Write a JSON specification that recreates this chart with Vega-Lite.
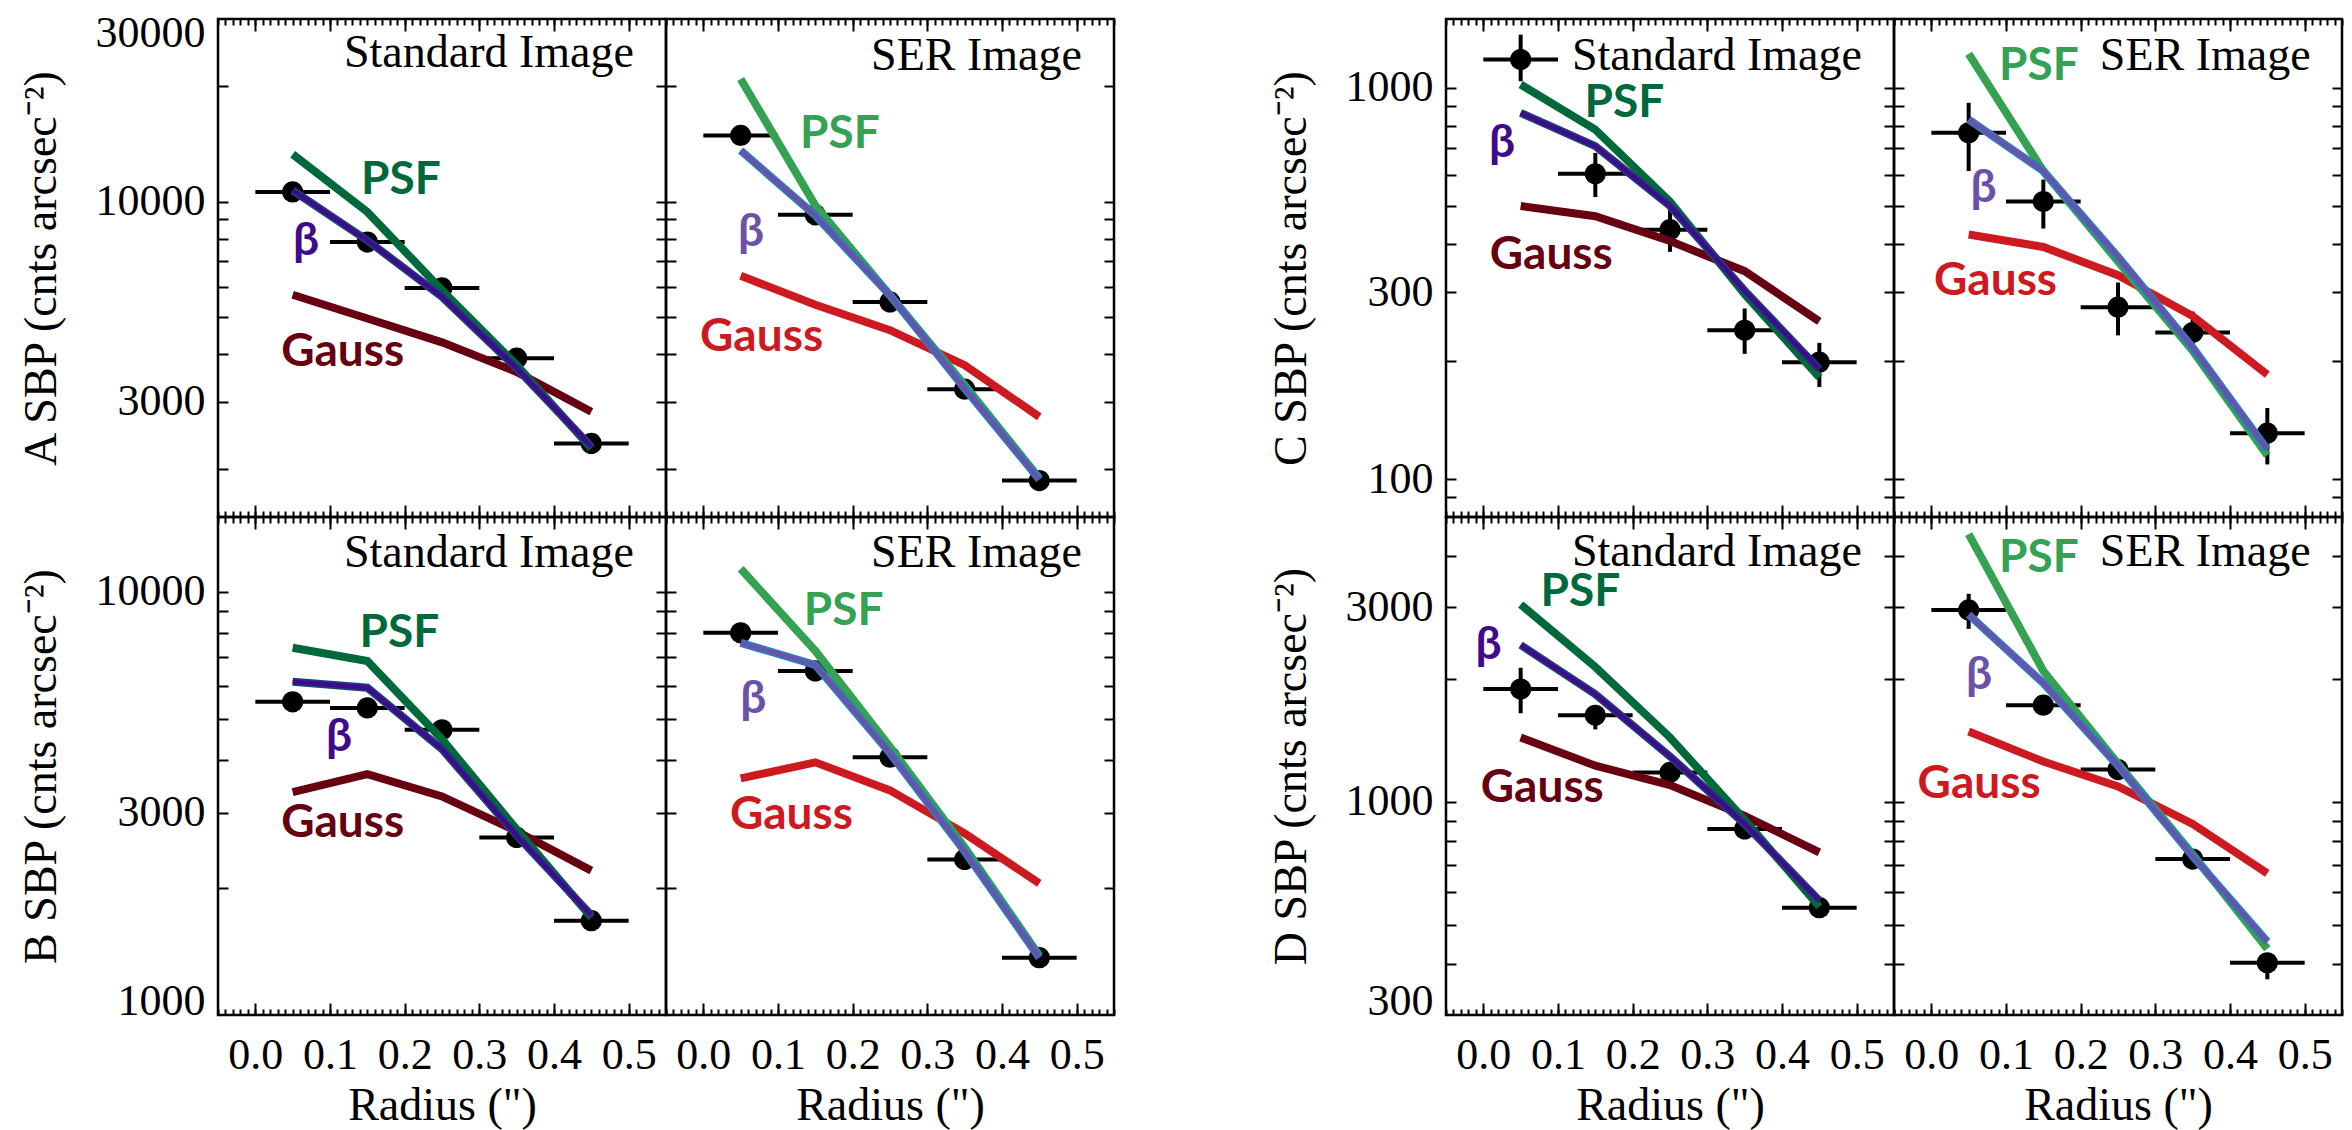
{
"$schema":"https://vega.github.io/schema/vega-lite/v6.json",
"background":"white",
"padding":{"left":16,"top":9,"right":5,"bottom":5},
"config":{
 "view":{"stroke":"black","strokeWidth":2.5},
 "axis":{"grid":false,"domain":false,"tickColor":"black","tickWidth":2,"labelFont":"Liberation Serif","labelFontSize":44,"labelColor":"black","titleFont":"Liberation Serif","titleFontSize":46,"titleFontWeight":"normal","titleColor":"black"}
},
"datasets":{"all":[
{"o":"A","i":"Std","k":"pt","r":0.05,"rl":0,"rh":0.1,"v":10600,"vl":10600,"vh":10600},
{"o":"A","i":"Std","k":"pt","r":0.15,"rl":0.1,"rh":0.2,"v":7840,"vl":7840,"vh":7840},
{"o":"A","i":"Std","k":"pt","r":0.25,"rl":0.2,"rh":0.3,"v":5950,"vl":5950,"vh":5950},
{"o":"A","i":"Std","k":"pt","r":0.35,"rl":0.3,"rh":0.4,"v":3900,"vl":3900,"vh":3900},
{"o":"A","i":"Std","k":"pt","r":0.45,"rl":0.4,"rh":0.5,"v":2335,"vl":2335,"vh":2335},
{"o":"A","i":"SER","k":"pt","r":0.05,"rl":0,"rh":0.1,"v":14890,"vl":14890,"vh":14890},
{"o":"A","i":"SER","k":"pt","r":0.15,"rl":0.1,"rh":0.2,"v":9240,"vl":9240,"vh":9240},
{"o":"A","i":"SER","k":"pt","r":0.25,"rl":0.2,"rh":0.3,"v":5470,"vl":5470,"vh":5470},
{"o":"A","i":"SER","k":"pt","r":0.35,"rl":0.3,"rh":0.4,"v":3236,"vl":3236,"vh":3236},
{"o":"A","i":"SER","k":"pt","r":0.45,"rl":0.4,"rh":0.5,"v":1867,"vl":1867,"vh":1867},
{"o":"B","i":"Std","k":"pt","r":0.05,"rl":0,"rh":0.1,"v":5490,"vl":5490,"vh":5490},
{"o":"B","i":"Std","k":"pt","r":0.15,"rl":0.1,"rh":0.2,"v":5310,"vl":5310,"vh":5310},
{"o":"B","i":"Std","k":"pt","r":0.25,"rl":0.2,"rh":0.3,"v":4714,"vl":4714,"vh":4714},
{"o":"B","i":"Std","k":"pt","r":0.35,"rl":0.3,"rh":0.4,"v":2627,"vl":2627,"vh":2627},
{"o":"B","i":"Std","k":"pt","r":0.45,"rl":0.4,"rh":0.5,"v":1670,"vl":1670,"vh":1670},
{"o":"B","i":"SER","k":"pt","r":0.05,"rl":0,"rh":0.1,"v":7990,"vl":7990,"vh":7990},
{"o":"B","i":"SER","k":"pt","r":0.15,"rl":0.1,"rh":0.2,"v":6495,"vl":6495,"vh":6495},
{"o":"B","i":"SER","k":"pt","r":0.25,"rl":0.2,"rh":0.3,"v":4064,"vl":4064,"vh":4064},
{"o":"B","i":"SER","k":"pt","r":0.35,"rl":0.3,"rh":0.4,"v":2330,"vl":2330,"vh":2330},
{"o":"B","i":"SER","k":"pt","r":0.45,"rl":0.4,"rh":0.5,"v":1366,"vl":1366,"vh":1366},
{"o":"C","i":"Std","k":"pt","r":0.05,"rl":0,"rh":0.1,"v":1181,"vl":1040,"vh":1368},
{"o":"C","i":"Std","k":"pt","r":0.15,"rl":0.1,"rh":0.2,"v":603,"vl":526,"vh":682},
{"o":"C","i":"Std","k":"pt","r":0.25,"rl":0.2,"rh":0.3,"v":434,"vl":381,"vh":490},
{"o":"C","i":"Std","k":"pt","r":0.35,"rl":0.3,"rh":0.4,"v":240,"vl":209,"vh":273},
{"o":"C","i":"Std","k":"pt","r":0.45,"rl":0.4,"rh":0.5,"v":199,"vl":172,"vh":223},
{"o":"C","i":"SER","k":"pt","r":0.05,"rl":0,"rh":0.1,"v":768,"vl":613,"vh":916},
{"o":"C","i":"SER","k":"pt","r":0.15,"rl":0.1,"rh":0.2,"v":512,"vl":437,"vh":583},
{"o":"C","i":"SER","k":"pt","r":0.25,"rl":0.2,"rh":0.3,"v":275,"vl":233,"vh":318},
{"o":"C","i":"SER","k":"pt","r":0.35,"rl":0.3,"rh":0.4,"v":237,"vl":213,"vh":268},
{"o":"C","i":"SER","k":"pt","r":0.45,"rl":0.4,"rh":0.5,"v":131,"vl":109,"vh":152},
{"o":"D","i":"Std","k":"pt","r":0.05,"rl":0,"rh":0.1,"v":1891,"vl":1650,"vh":2133},
{"o":"D","i":"Std","k":"pt","r":0.15,"rl":0.1,"rh":0.2,"v":1631,"vl":1506,"vh":1727},
{"o":"D","i":"Std","k":"pt","r":0.25,"rl":0.2,"rh":0.3,"v":1181,"vl":1130,"vh":1235},
{"o":"D","i":"Std","k":"pt","r":0.35,"rl":0.3,"rh":0.4,"v":858,"vl":830,"vh":890},
{"o":"D","i":"Std","k":"pt","r":0.45,"rl":0.4,"rh":0.5,"v":550,"vl":530,"vh":570},
{"o":"D","i":"SER","k":"pt","r":0.05,"rl":0,"rh":0.1,"v":2958,"vl":2657,"vh":3240},
{"o":"D","i":"SER","k":"pt","r":0.15,"rl":0.1,"rh":0.2,"v":1727,"vl":1650,"vh":1800},
{"o":"D","i":"SER","k":"pt","r":0.25,"rl":0.2,"rh":0.3,"v":1200,"vl":1150,"vh":1250},
{"o":"D","i":"SER","k":"pt","r":0.35,"rl":0.3,"rh":0.4,"v":724,"vl":700,"vh":750},
{"o":"D","i":"SER","k":"pt","r":0.45,"rl":0.4,"rh":0.5,"v":403,"vl":367,"vh":426},

{"o":"A","i":"Std","k":"PSF","r":0.05,"v":13300},{"o":"A","i":"Std","k":"PSF","r":0.15,"v":9400},{"o":"A","i":"Std","k":"PSF","r":0.25,"v":5870},{"o":"A","i":"Std","k":"PSF","r":0.35,"v":3740},{"o":"A","i":"Std","k":"PSF","r":0.45,"v":2266},
{"o":"A","i":"Std","k":"beta","r":0.05,"v":10700},{"o":"A","i":"Std","k":"beta","r":0.15,"v":7920},{"o":"A","i":"Std","k":"beta","r":0.25,"v":5640},{"o":"A","i":"Std","k":"beta","r":0.35,"v":3670},{"o":"A","i":"Std","k":"beta","r":0.45,"v":2290},
{"o":"A","i":"Std","k":"Gauss","r":0.05,"v":5710},{"o":"A","i":"Std","k":"Gauss","r":0.15,"v":4950},{"o":"A","i":"Std","k":"Gauss","r":0.25,"v":4290},{"o":"A","i":"Std","k":"Gauss","r":0.35,"v":3590},{"o":"A","i":"Std","k":"Gauss","r":0.45,"v":2825},
{"o":"A","i":"SER","k":"PSF","r":0.05,"v":20900},{"o":"A","i":"SER","k":"PSF","r":0.15,"v":9770},{"o":"A","i":"SER","k":"PSF","r":0.25,"v":5690},{"o":"A","i":"SER","k":"PSF","r":0.35,"v":3316},{"o":"A","i":"SER","k":"PSF","r":0.45,"v":1893},
{"o":"A","i":"SER","k":"beta","r":0.05,"v":13600},{"o":"A","i":"SER","k":"beta","r":0.15,"v":9200},{"o":"A","i":"SER","k":"beta","r":0.25,"v":5690},{"o":"A","i":"SER","k":"beta","r":0.35,"v":3250},{"o":"A","i":"SER","k":"beta","r":0.45,"v":1880},
{"o":"A","i":"SER","k":"Gauss","r":0.05,"v":6400},{"o":"A","i":"SER","k":"Gauss","r":0.15,"v":5380},{"o":"A","i":"SER","k":"Gauss","r":0.25,"v":4615},{"o":"A","i":"SER","k":"Gauss","r":0.35,"v":3740},{"o":"A","i":"SER","k":"Gauss","r":0.45,"v":2740},
{"o":"B","i":"Std","k":"PSF","r":0.05,"v":7366},{"o":"B","i":"Std","k":"PSF","r":0.15,"v":6855},{"o":"B","i":"Std","k":"PSF","r":0.25,"v":4480},{"o":"B","i":"Std","k":"PSF","r":0.35,"v":2744},{"o":"B","i":"Std","k":"PSF","r":0.45,"v":1700},
{"o":"B","i":"Std","k":"beta","r":0.05,"v":6120},{"o":"B","i":"Std","k":"beta","r":0.15,"v":5927},{"o":"B","i":"Std","k":"beta","r":0.25,"v":4245},{"o":"B","i":"Std","k":"beta","r":0.35,"v":2655},{"o":"B","i":"Std","k":"beta","r":0.45,"v":1720},
{"o":"B","i":"Std","k":"Gauss","r":0.05,"v":3360},{"o":"B","i":"Std","k":"Gauss","r":0.15,"v":3706},{"o":"B","i":"Std","k":"Gauss","r":0.25,"v":3283},{"o":"B","i":"Std","k":"Gauss","r":0.35,"v":2716},{"o":"B","i":"Std","k":"Gauss","r":0.45,"v":2193},
{"o":"B","i":"SER","k":"PSF","r":0.05,"v":11320},{"o":"B","i":"SER","k":"PSF","r":0.15,"v":7245},{"o":"B","i":"SER","k":"PSF","r":0.25,"v":4295},{"o":"B","i":"SER","k":"PSF","r":0.35,"v":2488},{"o":"B","i":"SER","k":"PSF","r":0.45,"v":1380},
{"o":"B","i":"SER","k":"beta","r":0.05,"v":7565},{"o":"B","i":"SER","k":"beta","r":0.15,"v":6710},{"o":"B","i":"SER","k":"beta","r":0.25,"v":4152},{"o":"B","i":"SER","k":"beta","r":0.35,"v":2434},{"o":"B","i":"SER","k":"beta","r":0.45,"v":1366},
{"o":"B","i":"SER","k":"Gauss","r":0.05,"v":3620},{"o":"B","i":"SER","k":"Gauss","r":0.15,"v":3950},{"o":"B","i":"SER","k":"Gauss","r":0.25,"v":3392},{"o":"B","i":"SER","k":"Gauss","r":0.35,"v":2685},{"o":"B","i":"SER","k":"Gauss","r":0.45,"v":2045},
{"o":"C","i":"Std","k":"PSF","r":0.05,"v":1020},{"o":"C","i":"Std","k":"PSF","r":0.15,"v":782},{"o":"C","i":"Std","k":"PSF","r":0.25,"v":512},{"o":"C","i":"Std","k":"PSF","r":0.35,"v":297},{"o":"C","i":"Std","k":"PSF","r":0.45,"v":182},
{"o":"C","i":"Std","k":"beta","r":0.05,"v":863},{"o":"C","i":"Std","k":"beta","r":0.15,"v":710},{"o":"C","i":"Std","k":"beta","r":0.25,"v":499},{"o":"C","i":"Std","k":"beta","r":0.35,"v":303},{"o":"C","i":"Std","k":"beta","r":0.45,"v":191},
{"o":"C","i":"Std","k":"Gauss","r":0.05,"v":499},{"o":"C","i":"Std","k":"Gauss","r":0.15,"v":470},{"o":"C","i":"Std","k":"Gauss","r":0.25,"v":406},{"o":"C","i":"Std","k":"Gauss","r":0.35,"v":340},{"o":"C","i":"Std","k":"Gauss","r":0.45,"v":253},
{"o":"C","i":"SER","k":"PSF","r":0.05,"v":1221},{"o":"C","i":"SER","k":"PSF","r":0.15,"v":613},{"o":"C","i":"SER","k":"PSF","r":0.25,"v":360},{"o":"C","i":"SER","k":"PSF","r":0.35,"v":213},{"o":"C","i":"SER","k":"PSF","r":0.45,"v":115},
{"o":"C","i":"SER","k":"beta","r":0.05,"v":830},{"o":"C","i":"SER","k":"beta","r":0.15,"v":613},{"o":"C","i":"SER","k":"beta","r":0.25,"v":370},{"o":"C","i":"SER","k":"beta","r":0.35,"v":217},{"o":"C","i":"SER","k":"beta","r":0.45,"v":119},
{"o":"C","i":"SER","k":"Gauss","r":0.05,"v":422},{"o":"C","i":"SER","k":"Gauss","r":0.15,"v":392},{"o":"C","i":"SER","k":"Gauss","r":0.25,"v":332},{"o":"C","i":"SER","k":"Gauss","r":0.35,"v":261},{"o":"C","i":"SER","k":"Gauss","r":0.45,"v":185},
{"o":"D","i":"Std","k":"PSF","r":0.05,"v":3050},{"o":"D","i":"Std","k":"PSF","r":0.15,"v":2143},{"o":"D","i":"Std","k":"PSF","r":0.25,"v":1439},{"o":"D","i":"Std","k":"PSF","r":0.35,"v":903},{"o":"D","i":"Std","k":"PSF","r":0.45,"v":553},
{"o":"D","i":"Std","k":"beta","r":0.05,"v":2426},{"o":"D","i":"Std","k":"beta","r":0.15,"v":1837},{"o":"D","i":"Std","k":"beta","r":0.25,"v":1293},{"o":"D","i":"Std","k":"beta","r":0.35,"v":883},{"o":"D","i":"Std","k":"beta","r":0.45,"v":573},
{"o":"D","i":"Std","k":"Gauss","r":0.05,"v":1439},{"o":"D","i":"Std","k":"Gauss","r":0.15,"v":1227},{"o":"D","i":"Std","k":"Gauss","r":0.25,"v":1100},{"o":"D","i":"Std","k":"Gauss","r":0.35,"v":924},{"o":"D","i":"Std","k":"Gauss","r":0.45,"v":752},
{"o":"D","i":"SER","k":"PSF","r":0.05,"v":4540},{"o":"D","i":"SER","k":"PSF","r":0.15,"v":2095},{"o":"D","i":"SER","k":"PSF","r":0.25,"v":1241},{"o":"D","i":"SER","k":"PSF","r":0.35,"v":744},{"o":"D","i":"SER","k":"PSF","r":0.45,"v":436},
{"o":"D","i":"SER","k":"beta","r":0.05,"v":2880},{"o":"D","i":"SER","k":"beta","r":0.15,"v":1956},{"o":"D","i":"SER","k":"beta","r":0.25,"v":1227},{"o":"D","i":"SER","k":"beta","r":0.35,"v":736},{"o":"D","i":"SER","k":"beta","r":0.45,"v":454},
{"o":"D","i":"SER","k":"Gauss","r":0.05,"v":1489},{"o":"D","i":"SER","k":"Gauss","r":0.15,"v":1256},{"o":"D","i":"SER","k":"Gauss","r":0.25,"v":1091},{"o":"D","i":"SER","k":"Gauss","r":0.35,"v":883},{"o":"D","i":"SER","k":"Gauss","r":0.45,"v":668},

{"o":"A","i":"Std","k":"lab","c":"SP","t":"PSF","r":0.195,"v":11360},
{"o":"A","i":"Std","k":"lab","c":"SB","t":"β","r":0.068,"v":7900},
{"o":"A","i":"Std","k":"lab","c":"SG","t":"Gauss","r":0.117,"v":4050},
{"o":"A","i":"Std","k":"title","t":"Standard Image","r":0.507,"v":24500},
{"o":"A","i":"SER","k":"lab","c":"EP","t":"PSF","r":0.183,"v":15000},
{"o":"A","i":"SER","k":"lab","c":"EB","t":"β","r":0.064,"v":8330},
{"o":"A","i":"SER","k":"lab","c":"EG","t":"Gauss","r":0.078,"v":4430},
{"o":"A","i":"SER","k":"title","t":"SER Image","r":0.507,"v":24080},
{"o":"B","i":"Std","k":"lab","c":"SP","t":"PSF","r":0.193,"v":7990},
{"o":"B","i":"Std","k":"lab","c":"SB","t":"β","r":0.112,"v":4530},
{"o":"B","i":"Std","k":"lab","c":"SG","t":"Gauss","r":0.117,"v":2836},
{"o":"B","i":"Std","k":"title","t":"Standard Image","r":0.507,"v":12350},
{"o":"B","i":"SER","k":"lab","c":"EP","t":"PSF","r":0.188,"v":9000},
{"o":"B","i":"SER","k":"lab","c":"EB","t":"β","r":0.067,"v":5575},
{"o":"B","i":"SER","k":"lab","c":"EG","t":"Gauss","r":0.118,"v":2963},
{"o":"B","i":"SER","k":"title","t":"SER Image","r":0.507,"v":12350},
{"o":"C","i":"Std","k":"lab","c":"SP","t":"PSF","r":0.189,"v":916},
{"o":"C","i":"Std","k":"lab","c":"SB","t":"β","r":0.025,"v":723},
{"o":"C","i":"Std","k":"lab","c":"SG","t":"Gauss","r":0.091,"v":375},
{"o":"C","i":"Std","k":"title","t":"Standard Image","r":0.507,"v":1205},
{"o":"C","i":"SER","k":"lab","c":"EP","t":"PSF","r":0.144,"v":1136},
{"o":"C","i":"SER","k":"lab","c":"EB","t":"β","r":0.07,"v":556},
{"o":"C","i":"SER","k":"lab","c":"EG","t":"Gauss","r":0.086,"v":321},
{"o":"C","i":"SER","k":"title","t":"SER Image","r":0.508,"v":1205},
{"o":"D","i":"Std","k":"lab","c":"SP","t":"PSF","r":0.13,"v":3265},
{"o":"D","i":"Std","k":"lab","c":"SB","t":"β","r":0.007,"v":2426},
{"o":"D","i":"Std","k":"lab","c":"SG","t":"Gauss","r":0.079,"v":1083},
{"o":"D","i":"Std","k":"title","t":"Standard Image","r":0.507,"v":4100},
{"o":"D","i":"SER","k":"lab","c":"EP","t":"PSF","r":0.144,"v":3963},
{"o":"D","i":"SER","k":"lab","c":"EB","t":"β","r":0.064,"v":2047},
{"o":"D","i":"SER","k":"lab","c":"EG","t":"Gauss","r":0.064,"v":1108},
{"o":"D","i":"SER","k":"title","t":"SER Image","r":0.508,"v":4100}
]},
"spacing":149,
"hconcat":[
{"columns":2,"spacing":0,"bounds":"flush","concat":[
  {"width":448,"height":498,"data":{"name":"all"},"transform":[{"filter":"datum.o=='A'&&datum.i=='Std'"}],
   "layer":[
    {"transform":[{"filter":"datum.k=='pt'"}],"mark":{"type":"rule","color":"black","strokeWidth":4},"encoding":{"x":{"field":"rl","type":"quantitative","scale":{"domain":[-0.05,0.55],"nice":false,"zero":false},"axis":null},"x2":{"field":"rh"},"y":{"field":"v","type":"quantitative","scale":{"type":"log","domain":[1500,30000],"nice":false},"axis":{"orient":"left","values":[3000,10000,30000],"format":"d","ticks":false,"tickSize":0,"labelPadding":13,"labelOverlap":false,"labelFlush":true,"labelFlushOffset":8,"title":"A SBP (cnts arcsec⁻²)","titlePadding":30}}}},
    {"transform":[{"filter":"datum.k=='pt'"}],"mark":{"type":"rule","color":"black","strokeWidth":4},"encoding":{"x":{"field":"r","type":"quantitative","scale":{"domain":[-0.05,0.55],"nice":false,"zero":false},"axis":{"orient":"bottom","offset":-12,"tickSize":12,"tickCount":6,"labels":false,"title":null}},"y":{"field":"vl","type":"quantitative","scale":{"type":"log","domain":[1500,30000],"nice":false},"axis":{"orient":"left","offset":-10,"tickSize":10,"values":[2000,3000,4000,5000,6000,7000,8000,9000,10000,20000],"labels":false,"title":null}},"y2":{"field":"vh"}}},
    {"transform":[{"filter":"datum.k=='pt'"}],"mark":{"type":"circle","color":"black","size":450,"opacity":1},"encoding":{"x":{"field":"r","type":"quantitative","scale":{"domain":[-0.05,0.55],"nice":false,"zero":false},"axis":{"orient":"bottom","offset":-6,"tickSize":6,"tickCount":60,"labels":false,"title":null}},"y":{"field":"v","type":"quantitative","scale":{"type":"log","domain":[1500,30000],"nice":false},"axis":{"orient":"right","offset":-10,"tickSize":10,"values":[2000,3000,4000,5000,6000,7000,8000,9000,10000,20000],"labels":false,"title":null}}}},
    {"transform":[{"filter":"datum.k=='Gauss'"}],"mark":{"type":"line","color":"#670010","strokeWidth":8},"encoding":{"x":{"field":"r","type":"quantitative","scale":{"domain":[-0.05,0.55],"nice":false,"zero":false},"axis":{"orient":"top","offset":-12,"tickSize":12,"tickCount":6,"labels":false,"title":null}},"y":{"field":"v","type":"quantitative","scale":{"type":"log","domain":[1500,30000],"nice":false},"axis":null}}},
    {"transform":[{"filter":"datum.k=='PSF'"}],"mark":{"type":"line","color":"#00693c","strokeWidth":8},"encoding":{"x":{"field":"r","type":"quantitative","scale":{"domain":[-0.05,0.55],"nice":false,"zero":false},"axis":{"orient":"top","offset":-6,"tickSize":6,"tickCount":60,"labels":false,"title":null}},"y":{"field":"v","type":"quantitative","scale":{"type":"log","domain":[1500,30000],"nice":false},"axis":null}}},
    {"transform":[{"filter":"datum.k=='beta'"}],"mark":{"type":"line","color":"#1b3f78","strokeWidth":8},"encoding":{"x":{"field":"r","type":"quantitative","scale":{"domain":[-0.05,0.55],"nice":false,"zero":false},"axis":null},"y":{"field":"v","type":"quantitative","scale":{"type":"log","domain":[1500,30000],"nice":false},"axis":null}}},
    {"transform":[{"filter":"datum.k=='beta'"}],"mark":{"type":"line","color":"#400a8c","strokeWidth":4.5},"encoding":{"x":{"field":"r","type":"quantitative","scale":{"domain":[-0.05,0.55],"nice":false,"zero":false},"axis":null},"y":{"field":"v","type":"quantitative","scale":{"type":"log","domain":[1500,30000],"nice":false},"axis":null}}},
    {"transform":[{"filter":"datum.k=='lab'"}],"mark":{"type":"text","font":"Lato","fontWeight":"bold","fontSize":46,"align":"center","baseline":"middle"},"encoding":{"x":{"field":"r","type":"quantitative","scale":{"domain":[-0.05,0.55],"nice":false,"zero":false},"axis":null},"y":{"field":"v","type":"quantitative","scale":{"type":"log","domain":[1500,30000],"nice":false},"axis":null},"text":{"field":"t"},"color":{"field":"c","type":"nominal","scale":{"domain":["SP","SB","SG","EP","EB","EG"],"range":["#00693c","#400a8c","#670010","#35a153","#6b52a8","#cd1a20"]},"legend":null}}},
    {"transform":[{"filter":"datum.k=='title'"}],"mark":{"type":"text","font":"Liberation Serif","fontSize":46,"align":"right","baseline":"middle","color":"black"},"encoding":{"x":{"field":"r","type":"quantitative","scale":{"domain":[-0.05,0.55],"nice":false,"zero":false},"axis":null},"y":{"field":"v","type":"quantitative","scale":{"type":"log","domain":[1500,30000],"nice":false},"axis":null},"text":{"field":"t"}}}
   ],
   "resolve":{"axis":{"x":"independent","y":"independent"}}},
  {"width":448,"height":498,"data":{"name":"all"},"transform":[{"filter":"datum.o=='A'&&datum.i=='SER'"}],
   "layer":[
    {"transform":[{"filter":"datum.k=='pt'"}],"mark":{"type":"rule","color":"black","strokeWidth":4},"encoding":{"x":{"field":"rl","type":"quantitative","scale":{"domain":[-0.05,0.55],"nice":false,"zero":false},"axis":null},"x2":{"field":"rh"},"y":{"field":"v","type":"quantitative","scale":{"type":"log","domain":[1500,30000],"nice":false},"axis":null}}},
    {"transform":[{"filter":"datum.k=='pt'"}],"mark":{"type":"rule","color":"black","strokeWidth":4},"encoding":{"x":{"field":"r","type":"quantitative","scale":{"domain":[-0.05,0.55],"nice":false,"zero":false},"axis":{"orient":"bottom","offset":-12,"tickSize":12,"tickCount":6,"labels":false,"title":null}},"y":{"field":"vl","type":"quantitative","scale":{"type":"log","domain":[1500,30000],"nice":false},"axis":{"orient":"left","offset":-10,"tickSize":10,"values":[2000,3000,4000,5000,6000,7000,8000,9000,10000,20000],"labels":false,"title":null}},"y2":{"field":"vh"}}},
    {"transform":[{"filter":"datum.k=='pt'"}],"mark":{"type":"circle","color":"black","size":450,"opacity":1},"encoding":{"x":{"field":"r","type":"quantitative","scale":{"domain":[-0.05,0.55],"nice":false,"zero":false},"axis":{"orient":"bottom","offset":-6,"tickSize":6,"tickCount":60,"labels":false,"title":null}},"y":{"field":"v","type":"quantitative","scale":{"type":"log","domain":[1500,30000],"nice":false},"axis":{"orient":"right","offset":-10,"tickSize":10,"values":[2000,3000,4000,5000,6000,7000,8000,9000,10000,20000],"labels":false,"title":null}}}},
    {"transform":[{"filter":"datum.k=='Gauss'"}],"mark":{"type":"line","color":"#cd1a20","strokeWidth":8},"encoding":{"x":{"field":"r","type":"quantitative","scale":{"domain":[-0.05,0.55],"nice":false,"zero":false},"axis":{"orient":"top","offset":-12,"tickSize":12,"tickCount":6,"labels":false,"title":null}},"y":{"field":"v","type":"quantitative","scale":{"type":"log","domain":[1500,30000],"nice":false},"axis":null}}},
    {"transform":[{"filter":"datum.k=='PSF'"}],"mark":{"type":"line","color":"#35a153","strokeWidth":8},"encoding":{"x":{"field":"r","type":"quantitative","scale":{"domain":[-0.05,0.55],"nice":false,"zero":false},"axis":{"orient":"top","offset":-6,"tickSize":6,"tickCount":60,"labels":false,"title":null}},"y":{"field":"v","type":"quantitative","scale":{"type":"log","domain":[1500,30000],"nice":false},"axis":null}}},
    {"transform":[{"filter":"datum.k=='beta'"}],"mark":{"type":"line","color":"#2b7cc2","strokeWidth":8},"encoding":{"x":{"field":"r","type":"quantitative","scale":{"domain":[-0.05,0.55],"nice":false,"zero":false},"axis":null},"y":{"field":"v","type":"quantitative","scale":{"type":"log","domain":[1500,30000],"nice":false},"axis":null}}},
    {"transform":[{"filter":"datum.k=='beta'"}],"mark":{"type":"line","color":"#6b52a8","strokeWidth":4.5},"encoding":{"x":{"field":"r","type":"quantitative","scale":{"domain":[-0.05,0.55],"nice":false,"zero":false},"axis":null},"y":{"field":"v","type":"quantitative","scale":{"type":"log","domain":[1500,30000],"nice":false},"axis":null}}},
    {"transform":[{"filter":"datum.k=='lab'"}],"mark":{"type":"text","font":"Lato","fontWeight":"bold","fontSize":46,"align":"center","baseline":"middle"},"encoding":{"x":{"field":"r","type":"quantitative","scale":{"domain":[-0.05,0.55],"nice":false,"zero":false},"axis":null},"y":{"field":"v","type":"quantitative","scale":{"type":"log","domain":[1500,30000],"nice":false},"axis":null},"text":{"field":"t"},"color":{"field":"c","type":"nominal","scale":{"domain":["SP","SB","SG","EP","EB","EG"],"range":["#00693c","#400a8c","#670010","#35a153","#6b52a8","#cd1a20"]},"legend":null}}},
    {"transform":[{"filter":"datum.k=='title'"}],"mark":{"type":"text","font":"Liberation Serif","fontSize":46,"align":"right","baseline":"middle","color":"black"},"encoding":{"x":{"field":"r","type":"quantitative","scale":{"domain":[-0.05,0.55],"nice":false,"zero":false},"axis":null},"y":{"field":"v","type":"quantitative","scale":{"type":"log","domain":[1500,30000],"nice":false},"axis":null},"text":{"field":"t"}}}
   ],
   "resolve":{"axis":{"x":"independent","y":"independent"}}},
  {"width":448,"height":498,"data":{"name":"all"},"transform":[{"filter":"datum.o=='B'&&datum.i=='Std'"}],
   "layer":[
    {"transform":[{"filter":"datum.k=='pt'"}],"mark":{"type":"rule","color":"black","strokeWidth":4},"encoding":{"x":{"field":"rl","type":"quantitative","scale":{"domain":[-0.05,0.55],"nice":false,"zero":false},"axis":{"orient":"bottom","values":[0,0.1,0.2,0.3,0.4,0.5],"format":".1f","ticks":false,"tickSize":0,"labelPadding":18,"labelOverlap":false,"labelFlush":false,"title":"Radius (\")","titlePadding":6}},"x2":{"field":"rh"},"y":{"field":"v","type":"quantitative","scale":{"type":"log","domain":[1000,15000],"nice":false},"axis":{"orient":"left","values":[1000,3000,10000],"format":"d","ticks":false,"tickSize":0,"labelPadding":13,"labelOverlap":false,"labelFlush":true,"labelFlushOffset":8,"title":"B SBP (cnts arcsec⁻²)","titlePadding":30}}}},
    {"transform":[{"filter":"datum.k=='pt'"}],"mark":{"type":"rule","color":"black","strokeWidth":4},"encoding":{"x":{"field":"r","type":"quantitative","scale":{"domain":[-0.05,0.55],"nice":false,"zero":false},"axis":{"orient":"bottom","offset":-12,"tickSize":12,"tickCount":6,"labels":false,"title":null}},"y":{"field":"vl","type":"quantitative","scale":{"type":"log","domain":[1000,15000],"nice":false},"axis":{"orient":"left","offset":-10,"tickSize":10,"values":[2000,3000,4000,5000,6000,7000,8000,9000,10000],"labels":false,"title":null}},"y2":{"field":"vh"}}},
    {"transform":[{"filter":"datum.k=='pt'"}],"mark":{"type":"circle","color":"black","size":450,"opacity":1},"encoding":{"x":{"field":"r","type":"quantitative","scale":{"domain":[-0.05,0.55],"nice":false,"zero":false},"axis":{"orient":"bottom","offset":-6,"tickSize":6,"tickCount":60,"labels":false,"title":null}},"y":{"field":"v","type":"quantitative","scale":{"type":"log","domain":[1000,15000],"nice":false},"axis":{"orient":"right","offset":-10,"tickSize":10,"values":[2000,3000,4000,5000,6000,7000,8000,9000,10000],"labels":false,"title":null}}}},
    {"transform":[{"filter":"datum.k=='Gauss'"}],"mark":{"type":"line","color":"#670010","strokeWidth":8},"encoding":{"x":{"field":"r","type":"quantitative","scale":{"domain":[-0.05,0.55],"nice":false,"zero":false},"axis":{"orient":"top","offset":-12,"tickSize":12,"tickCount":6,"labels":false,"title":null}},"y":{"field":"v","type":"quantitative","scale":{"type":"log","domain":[1000,15000],"nice":false},"axis":null}}},
    {"transform":[{"filter":"datum.k=='PSF'"}],"mark":{"type":"line","color":"#00693c","strokeWidth":8},"encoding":{"x":{"field":"r","type":"quantitative","scale":{"domain":[-0.05,0.55],"nice":false,"zero":false},"axis":{"orient":"top","offset":-6,"tickSize":6,"tickCount":60,"labels":false,"title":null}},"y":{"field":"v","type":"quantitative","scale":{"type":"log","domain":[1000,15000],"nice":false},"axis":null}}},
    {"transform":[{"filter":"datum.k=='beta'"}],"mark":{"type":"line","color":"#1b3f78","strokeWidth":8},"encoding":{"x":{"field":"r","type":"quantitative","scale":{"domain":[-0.05,0.55],"nice":false,"zero":false},"axis":null},"y":{"field":"v","type":"quantitative","scale":{"type":"log","domain":[1000,15000],"nice":false},"axis":null}}},
    {"transform":[{"filter":"datum.k=='beta'"}],"mark":{"type":"line","color":"#400a8c","strokeWidth":4.5},"encoding":{"x":{"field":"r","type":"quantitative","scale":{"domain":[-0.05,0.55],"nice":false,"zero":false},"axis":null},"y":{"field":"v","type":"quantitative","scale":{"type":"log","domain":[1000,15000],"nice":false},"axis":null}}},
    {"transform":[{"filter":"datum.k=='lab'"}],"mark":{"type":"text","font":"Lato","fontWeight":"bold","fontSize":46,"align":"center","baseline":"middle"},"encoding":{"x":{"field":"r","type":"quantitative","scale":{"domain":[-0.05,0.55],"nice":false,"zero":false},"axis":null},"y":{"field":"v","type":"quantitative","scale":{"type":"log","domain":[1000,15000],"nice":false},"axis":null},"text":{"field":"t"},"color":{"field":"c","type":"nominal","scale":{"domain":["SP","SB","SG","EP","EB","EG"],"range":["#00693c","#400a8c","#670010","#35a153","#6b52a8","#cd1a20"]},"legend":null}}},
    {"transform":[{"filter":"datum.k=='title'"}],"mark":{"type":"text","font":"Liberation Serif","fontSize":46,"align":"right","baseline":"middle","color":"black"},"encoding":{"x":{"field":"r","type":"quantitative","scale":{"domain":[-0.05,0.55],"nice":false,"zero":false},"axis":null},"y":{"field":"v","type":"quantitative","scale":{"type":"log","domain":[1000,15000],"nice":false},"axis":null},"text":{"field":"t"}}}
   ],
   "resolve":{"axis":{"x":"independent","y":"independent"}}},
  {"width":448,"height":498,"data":{"name":"all"},"transform":[{"filter":"datum.o=='B'&&datum.i=='SER'"}],
   "layer":[
    {"transform":[{"filter":"datum.k=='pt'"}],"mark":{"type":"rule","color":"black","strokeWidth":4},"encoding":{"x":{"field":"rl","type":"quantitative","scale":{"domain":[-0.05,0.55],"nice":false,"zero":false},"axis":{"orient":"bottom","values":[0,0.1,0.2,0.3,0.4,0.5],"format":".1f","ticks":false,"tickSize":0,"labelPadding":18,"labelOverlap":false,"labelFlush":false,"title":"Radius (\")","titlePadding":6}},"x2":{"field":"rh"},"y":{"field":"v","type":"quantitative","scale":{"type":"log","domain":[1000,15000],"nice":false},"axis":null}}},
    {"transform":[{"filter":"datum.k=='pt'"}],"mark":{"type":"rule","color":"black","strokeWidth":4},"encoding":{"x":{"field":"r","type":"quantitative","scale":{"domain":[-0.05,0.55],"nice":false,"zero":false},"axis":{"orient":"bottom","offset":-12,"tickSize":12,"tickCount":6,"labels":false,"title":null}},"y":{"field":"vl","type":"quantitative","scale":{"type":"log","domain":[1000,15000],"nice":false},"axis":{"orient":"left","offset":-10,"tickSize":10,"values":[2000,3000,4000,5000,6000,7000,8000,9000,10000],"labels":false,"title":null}},"y2":{"field":"vh"}}},
    {"transform":[{"filter":"datum.k=='pt'"}],"mark":{"type":"circle","color":"black","size":450,"opacity":1},"encoding":{"x":{"field":"r","type":"quantitative","scale":{"domain":[-0.05,0.55],"nice":false,"zero":false},"axis":{"orient":"bottom","offset":-6,"tickSize":6,"tickCount":60,"labels":false,"title":null}},"y":{"field":"v","type":"quantitative","scale":{"type":"log","domain":[1000,15000],"nice":false},"axis":{"orient":"right","offset":-10,"tickSize":10,"values":[2000,3000,4000,5000,6000,7000,8000,9000,10000],"labels":false,"title":null}}}},
    {"transform":[{"filter":"datum.k=='Gauss'"}],"mark":{"type":"line","color":"#cd1a20","strokeWidth":8},"encoding":{"x":{"field":"r","type":"quantitative","scale":{"domain":[-0.05,0.55],"nice":false,"zero":false},"axis":{"orient":"top","offset":-12,"tickSize":12,"tickCount":6,"labels":false,"title":null}},"y":{"field":"v","type":"quantitative","scale":{"type":"log","domain":[1000,15000],"nice":false},"axis":null}}},
    {"transform":[{"filter":"datum.k=='PSF'"}],"mark":{"type":"line","color":"#35a153","strokeWidth":8},"encoding":{"x":{"field":"r","type":"quantitative","scale":{"domain":[-0.05,0.55],"nice":false,"zero":false},"axis":{"orient":"top","offset":-6,"tickSize":6,"tickCount":60,"labels":false,"title":null}},"y":{"field":"v","type":"quantitative","scale":{"type":"log","domain":[1000,15000],"nice":false},"axis":null}}},
    {"transform":[{"filter":"datum.k=='beta'"}],"mark":{"type":"line","color":"#2b7cc2","strokeWidth":8},"encoding":{"x":{"field":"r","type":"quantitative","scale":{"domain":[-0.05,0.55],"nice":false,"zero":false},"axis":null},"y":{"field":"v","type":"quantitative","scale":{"type":"log","domain":[1000,15000],"nice":false},"axis":null}}},
    {"transform":[{"filter":"datum.k=='beta'"}],"mark":{"type":"line","color":"#6b52a8","strokeWidth":4.5},"encoding":{"x":{"field":"r","type":"quantitative","scale":{"domain":[-0.05,0.55],"nice":false,"zero":false},"axis":null},"y":{"field":"v","type":"quantitative","scale":{"type":"log","domain":[1000,15000],"nice":false},"axis":null}}},
    {"transform":[{"filter":"datum.k=='lab'"}],"mark":{"type":"text","font":"Lato","fontWeight":"bold","fontSize":46,"align":"center","baseline":"middle"},"encoding":{"x":{"field":"r","type":"quantitative","scale":{"domain":[-0.05,0.55],"nice":false,"zero":false},"axis":null},"y":{"field":"v","type":"quantitative","scale":{"type":"log","domain":[1000,15000],"nice":false},"axis":null},"text":{"field":"t"},"color":{"field":"c","type":"nominal","scale":{"domain":["SP","SB","SG","EP","EB","EG"],"range":["#00693c","#400a8c","#670010","#35a153","#6b52a8","#cd1a20"]},"legend":null}}},
    {"transform":[{"filter":"datum.k=='title'"}],"mark":{"type":"text","font":"Liberation Serif","fontSize":46,"align":"right","baseline":"middle","color":"black"},"encoding":{"x":{"field":"r","type":"quantitative","scale":{"domain":[-0.05,0.55],"nice":false,"zero":false},"axis":null},"y":{"field":"v","type":"quantitative","scale":{"type":"log","domain":[1000,15000],"nice":false},"axis":null},"text":{"field":"t"}}}
   ],
   "resolve":{"axis":{"x":"independent","y":"independent"}}}
]},
{"columns":2,"spacing":0,"bounds":"flush","concat":[
  {"width":448,"height":498,"data":{"name":"all"},"transform":[{"filter":"datum.o=='C'&&datum.i=='Std'"}],
   "layer":[
    {"transform":[{"filter":"datum.k=='pt'"}],"mark":{"type":"rule","color":"black","strokeWidth":4},"encoding":{"x":{"field":"rl","type":"quantitative","scale":{"domain":[-0.05,0.55],"nice":false,"zero":false},"axis":null},"x2":{"field":"rh"},"y":{"field":"v","type":"quantitative","scale":{"type":"log","domain":[80,1500],"nice":false},"axis":{"orient":"left","values":[100,300,1000],"format":"d","ticks":false,"tickSize":0,"labelPadding":13,"labelOverlap":false,"labelFlush":true,"labelFlushOffset":8,"title":"C SBP (cnts arcsec⁻²)","titlePadding":30}}}},
    {"transform":[{"filter":"datum.k=='pt'"}],"mark":{"type":"rule","color":"black","strokeWidth":4},"encoding":{"x":{"field":"r","type":"quantitative","scale":{"domain":[-0.05,0.55],"nice":false,"zero":false},"axis":{"orient":"bottom","offset":-12,"tickSize":12,"tickCount":6,"labels":false,"title":null}},"y":{"field":"vl","type":"quantitative","scale":{"type":"log","domain":[80,1500],"nice":false},"axis":{"orient":"left","offset":-10,"tickSize":10,"values":[90,100,200,300,400,500,600,700,800,900,1000],"labels":false,"title":null}},"y2":{"field":"vh"}}},
    {"transform":[{"filter":"datum.k=='pt'"}],"mark":{"type":"circle","color":"black","size":450,"opacity":1},"encoding":{"x":{"field":"r","type":"quantitative","scale":{"domain":[-0.05,0.55],"nice":false,"zero":false},"axis":{"orient":"bottom","offset":-6,"tickSize":6,"tickCount":60,"labels":false,"title":null}},"y":{"field":"v","type":"quantitative","scale":{"type":"log","domain":[80,1500],"nice":false},"axis":{"orient":"right","offset":-10,"tickSize":10,"values":[90,100,200,300,400,500,600,700,800,900,1000],"labels":false,"title":null}}}},
    {"transform":[{"filter":"datum.k=='Gauss'"}],"mark":{"type":"line","color":"#670010","strokeWidth":8},"encoding":{"x":{"field":"r","type":"quantitative","scale":{"domain":[-0.05,0.55],"nice":false,"zero":false},"axis":{"orient":"top","offset":-12,"tickSize":12,"tickCount":6,"labels":false,"title":null}},"y":{"field":"v","type":"quantitative","scale":{"type":"log","domain":[80,1500],"nice":false},"axis":null}}},
    {"transform":[{"filter":"datum.k=='PSF'"}],"mark":{"type":"line","color":"#00693c","strokeWidth":8},"encoding":{"x":{"field":"r","type":"quantitative","scale":{"domain":[-0.05,0.55],"nice":false,"zero":false},"axis":{"orient":"top","offset":-6,"tickSize":6,"tickCount":60,"labels":false,"title":null}},"y":{"field":"v","type":"quantitative","scale":{"type":"log","domain":[80,1500],"nice":false},"axis":null}}},
    {"transform":[{"filter":"datum.k=='beta'"}],"mark":{"type":"line","color":"#1b3f78","strokeWidth":8},"encoding":{"x":{"field":"r","type":"quantitative","scale":{"domain":[-0.05,0.55],"nice":false,"zero":false},"axis":null},"y":{"field":"v","type":"quantitative","scale":{"type":"log","domain":[80,1500],"nice":false},"axis":null}}},
    {"transform":[{"filter":"datum.k=='beta'"}],"mark":{"type":"line","color":"#400a8c","strokeWidth":4.5},"encoding":{"x":{"field":"r","type":"quantitative","scale":{"domain":[-0.05,0.55],"nice":false,"zero":false},"axis":null},"y":{"field":"v","type":"quantitative","scale":{"type":"log","domain":[80,1500],"nice":false},"axis":null}}},
    {"transform":[{"filter":"datum.k=='lab'"}],"mark":{"type":"text","font":"Lato","fontWeight":"bold","fontSize":46,"align":"center","baseline":"middle"},"encoding":{"x":{"field":"r","type":"quantitative","scale":{"domain":[-0.05,0.55],"nice":false,"zero":false},"axis":null},"y":{"field":"v","type":"quantitative","scale":{"type":"log","domain":[80,1500],"nice":false},"axis":null},"text":{"field":"t"},"color":{"field":"c","type":"nominal","scale":{"domain":["SP","SB","SG","EP","EB","EG"],"range":["#00693c","#400a8c","#670010","#35a153","#6b52a8","#cd1a20"]},"legend":null}}},
    {"transform":[{"filter":"datum.k=='title'"}],"mark":{"type":"text","font":"Liberation Serif","fontSize":46,"align":"right","baseline":"middle","color":"black"},"encoding":{"x":{"field":"r","type":"quantitative","scale":{"domain":[-0.05,0.55],"nice":false,"zero":false},"axis":null},"y":{"field":"v","type":"quantitative","scale":{"type":"log","domain":[80,1500],"nice":false},"axis":null},"text":{"field":"t"}}}
   ],
   "resolve":{"axis":{"x":"independent","y":"independent"}}},
  {"width":448,"height":498,"data":{"name":"all"},"transform":[{"filter":"datum.o=='C'&&datum.i=='SER'"}],
   "layer":[
    {"transform":[{"filter":"datum.k=='pt'"}],"mark":{"type":"rule","color":"black","strokeWidth":4},"encoding":{"x":{"field":"rl","type":"quantitative","scale":{"domain":[-0.05,0.55],"nice":false,"zero":false},"axis":null},"x2":{"field":"rh"},"y":{"field":"v","type":"quantitative","scale":{"type":"log","domain":[80,1500],"nice":false},"axis":null}}},
    {"transform":[{"filter":"datum.k=='pt'"}],"mark":{"type":"rule","color":"black","strokeWidth":4},"encoding":{"x":{"field":"r","type":"quantitative","scale":{"domain":[-0.05,0.55],"nice":false,"zero":false},"axis":{"orient":"bottom","offset":-12,"tickSize":12,"tickCount":6,"labels":false,"title":null}},"y":{"field":"vl","type":"quantitative","scale":{"type":"log","domain":[80,1500],"nice":false},"axis":{"orient":"left","offset":-10,"tickSize":10,"values":[90,100,200,300,400,500,600,700,800,900,1000],"labels":false,"title":null}},"y2":{"field":"vh"}}},
    {"transform":[{"filter":"datum.k=='pt'"}],"mark":{"type":"circle","color":"black","size":450,"opacity":1},"encoding":{"x":{"field":"r","type":"quantitative","scale":{"domain":[-0.05,0.55],"nice":false,"zero":false},"axis":{"orient":"bottom","offset":-6,"tickSize":6,"tickCount":60,"labels":false,"title":null}},"y":{"field":"v","type":"quantitative","scale":{"type":"log","domain":[80,1500],"nice":false},"axis":{"orient":"right","offset":-10,"tickSize":10,"values":[90,100,200,300,400,500,600,700,800,900,1000],"labels":false,"title":null}}}},
    {"transform":[{"filter":"datum.k=='Gauss'"}],"mark":{"type":"line","color":"#cd1a20","strokeWidth":8},"encoding":{"x":{"field":"r","type":"quantitative","scale":{"domain":[-0.05,0.55],"nice":false,"zero":false},"axis":{"orient":"top","offset":-12,"tickSize":12,"tickCount":6,"labels":false,"title":null}},"y":{"field":"v","type":"quantitative","scale":{"type":"log","domain":[80,1500],"nice":false},"axis":null}}},
    {"transform":[{"filter":"datum.k=='PSF'"}],"mark":{"type":"line","color":"#35a153","strokeWidth":8},"encoding":{"x":{"field":"r","type":"quantitative","scale":{"domain":[-0.05,0.55],"nice":false,"zero":false},"axis":{"orient":"top","offset":-6,"tickSize":6,"tickCount":60,"labels":false,"title":null}},"y":{"field":"v","type":"quantitative","scale":{"type":"log","domain":[80,1500],"nice":false},"axis":null}}},
    {"transform":[{"filter":"datum.k=='beta'"}],"mark":{"type":"line","color":"#2b7cc2","strokeWidth":8},"encoding":{"x":{"field":"r","type":"quantitative","scale":{"domain":[-0.05,0.55],"nice":false,"zero":false},"axis":null},"y":{"field":"v","type":"quantitative","scale":{"type":"log","domain":[80,1500],"nice":false},"axis":null}}},
    {"transform":[{"filter":"datum.k=='beta'"}],"mark":{"type":"line","color":"#6b52a8","strokeWidth":4.5},"encoding":{"x":{"field":"r","type":"quantitative","scale":{"domain":[-0.05,0.55],"nice":false,"zero":false},"axis":null},"y":{"field":"v","type":"quantitative","scale":{"type":"log","domain":[80,1500],"nice":false},"axis":null}}},
    {"transform":[{"filter":"datum.k=='lab'"}],"mark":{"type":"text","font":"Lato","fontWeight":"bold","fontSize":46,"align":"center","baseline":"middle"},"encoding":{"x":{"field":"r","type":"quantitative","scale":{"domain":[-0.05,0.55],"nice":false,"zero":false},"axis":null},"y":{"field":"v","type":"quantitative","scale":{"type":"log","domain":[80,1500],"nice":false},"axis":null},"text":{"field":"t"},"color":{"field":"c","type":"nominal","scale":{"domain":["SP","SB","SG","EP","EB","EG"],"range":["#00693c","#400a8c","#670010","#35a153","#6b52a8","#cd1a20"]},"legend":null}}},
    {"transform":[{"filter":"datum.k=='title'"}],"mark":{"type":"text","font":"Liberation Serif","fontSize":46,"align":"right","baseline":"middle","color":"black"},"encoding":{"x":{"field":"r","type":"quantitative","scale":{"domain":[-0.05,0.55],"nice":false,"zero":false},"axis":null},"y":{"field":"v","type":"quantitative","scale":{"type":"log","domain":[80,1500],"nice":false},"axis":null},"text":{"field":"t"}}}
   ],
   "resolve":{"axis":{"x":"independent","y":"independent"}}},
  {"width":448,"height":498,"data":{"name":"all"},"transform":[{"filter":"datum.o=='D'&&datum.i=='Std'"}],
   "layer":[
    {"transform":[{"filter":"datum.k=='pt'"}],"mark":{"type":"rule","color":"black","strokeWidth":4},"encoding":{"x":{"field":"rl","type":"quantitative","scale":{"domain":[-0.05,0.55],"nice":false,"zero":false},"axis":{"orient":"bottom","values":[0,0.1,0.2,0.3,0.4,0.5],"format":".1f","ticks":false,"tickSize":0,"labelPadding":18,"labelOverlap":false,"labelFlush":false,"title":"Radius (\")","titlePadding":6}},"x2":{"field":"rh"},"y":{"field":"v","type":"quantitative","scale":{"type":"log","domain":[300,5000],"nice":false},"axis":{"orient":"left","values":[300,1000,3000],"format":"d","ticks":false,"tickSize":0,"labelPadding":13,"labelOverlap":false,"labelFlush":true,"labelFlushOffset":8,"title":"D SBP (cnts arcsec⁻²)","titlePadding":30}}}},
    {"transform":[{"filter":"datum.k=='pt'"}],"mark":{"type":"rule","color":"black","strokeWidth":4},"encoding":{"x":{"field":"r","type":"quantitative","scale":{"domain":[-0.05,0.55],"nice":false,"zero":false},"axis":{"orient":"bottom","offset":-12,"tickSize":12,"tickCount":6,"labels":false,"title":null}},"y":{"field":"vl","type":"quantitative","scale":{"type":"log","domain":[300,5000],"nice":false},"axis":{"orient":"left","offset":-10,"tickSize":10,"values":[400,500,600,700,800,900,1000,2000,3000,4000],"labels":false,"title":null}},"y2":{"field":"vh"}}},
    {"transform":[{"filter":"datum.k=='pt'"}],"mark":{"type":"circle","color":"black","size":450,"opacity":1},"encoding":{"x":{"field":"r","type":"quantitative","scale":{"domain":[-0.05,0.55],"nice":false,"zero":false},"axis":{"orient":"bottom","offset":-6,"tickSize":6,"tickCount":60,"labels":false,"title":null}},"y":{"field":"v","type":"quantitative","scale":{"type":"log","domain":[300,5000],"nice":false},"axis":{"orient":"right","offset":-10,"tickSize":10,"values":[400,500,600,700,800,900,1000,2000,3000,4000],"labels":false,"title":null}}}},
    {"transform":[{"filter":"datum.k=='Gauss'"}],"mark":{"type":"line","color":"#670010","strokeWidth":8},"encoding":{"x":{"field":"r","type":"quantitative","scale":{"domain":[-0.05,0.55],"nice":false,"zero":false},"axis":{"orient":"top","offset":-12,"tickSize":12,"tickCount":6,"labels":false,"title":null}},"y":{"field":"v","type":"quantitative","scale":{"type":"log","domain":[300,5000],"nice":false},"axis":null}}},
    {"transform":[{"filter":"datum.k=='PSF'"}],"mark":{"type":"line","color":"#00693c","strokeWidth":8},"encoding":{"x":{"field":"r","type":"quantitative","scale":{"domain":[-0.05,0.55],"nice":false,"zero":false},"axis":{"orient":"top","offset":-6,"tickSize":6,"tickCount":60,"labels":false,"title":null}},"y":{"field":"v","type":"quantitative","scale":{"type":"log","domain":[300,5000],"nice":false},"axis":null}}},
    {"transform":[{"filter":"datum.k=='beta'"}],"mark":{"type":"line","color":"#1b3f78","strokeWidth":8},"encoding":{"x":{"field":"r","type":"quantitative","scale":{"domain":[-0.05,0.55],"nice":false,"zero":false},"axis":null},"y":{"field":"v","type":"quantitative","scale":{"type":"log","domain":[300,5000],"nice":false},"axis":null}}},
    {"transform":[{"filter":"datum.k=='beta'"}],"mark":{"type":"line","color":"#400a8c","strokeWidth":4.5},"encoding":{"x":{"field":"r","type":"quantitative","scale":{"domain":[-0.05,0.55],"nice":false,"zero":false},"axis":null},"y":{"field":"v","type":"quantitative","scale":{"type":"log","domain":[300,5000],"nice":false},"axis":null}}},
    {"transform":[{"filter":"datum.k=='lab'"}],"mark":{"type":"text","font":"Lato","fontWeight":"bold","fontSize":46,"align":"center","baseline":"middle"},"encoding":{"x":{"field":"r","type":"quantitative","scale":{"domain":[-0.05,0.55],"nice":false,"zero":false},"axis":null},"y":{"field":"v","type":"quantitative","scale":{"type":"log","domain":[300,5000],"nice":false},"axis":null},"text":{"field":"t"},"color":{"field":"c","type":"nominal","scale":{"domain":["SP","SB","SG","EP","EB","EG"],"range":["#00693c","#400a8c","#670010","#35a153","#6b52a8","#cd1a20"]},"legend":null}}},
    {"transform":[{"filter":"datum.k=='title'"}],"mark":{"type":"text","font":"Liberation Serif","fontSize":46,"align":"right","baseline":"middle","color":"black"},"encoding":{"x":{"field":"r","type":"quantitative","scale":{"domain":[-0.05,0.55],"nice":false,"zero":false},"axis":null},"y":{"field":"v","type":"quantitative","scale":{"type":"log","domain":[300,5000],"nice":false},"axis":null},"text":{"field":"t"}}}
   ],
   "resolve":{"axis":{"x":"independent","y":"independent"}}},
  {"width":448,"height":498,"data":{"name":"all"},"transform":[{"filter":"datum.o=='D'&&datum.i=='SER'"}],
   "layer":[
    {"transform":[{"filter":"datum.k=='pt'"}],"mark":{"type":"rule","color":"black","strokeWidth":4},"encoding":{"x":{"field":"rl","type":"quantitative","scale":{"domain":[-0.05,0.55],"nice":false,"zero":false},"axis":{"orient":"bottom","values":[0,0.1,0.2,0.3,0.4,0.5],"format":".1f","ticks":false,"tickSize":0,"labelPadding":18,"labelOverlap":false,"labelFlush":false,"title":"Radius (\")","titlePadding":6}},"x2":{"field":"rh"},"y":{"field":"v","type":"quantitative","scale":{"type":"log","domain":[300,5000],"nice":false},"axis":null}}},
    {"transform":[{"filter":"datum.k=='pt'"}],"mark":{"type":"rule","color":"black","strokeWidth":4},"encoding":{"x":{"field":"r","type":"quantitative","scale":{"domain":[-0.05,0.55],"nice":false,"zero":false},"axis":{"orient":"bottom","offset":-12,"tickSize":12,"tickCount":6,"labels":false,"title":null}},"y":{"field":"vl","type":"quantitative","scale":{"type":"log","domain":[300,5000],"nice":false},"axis":{"orient":"left","offset":-10,"tickSize":10,"values":[400,500,600,700,800,900,1000,2000,3000,4000],"labels":false,"title":null}},"y2":{"field":"vh"}}},
    {"transform":[{"filter":"datum.k=='pt'"}],"mark":{"type":"circle","color":"black","size":450,"opacity":1},"encoding":{"x":{"field":"r","type":"quantitative","scale":{"domain":[-0.05,0.55],"nice":false,"zero":false},"axis":{"orient":"bottom","offset":-6,"tickSize":6,"tickCount":60,"labels":false,"title":null}},"y":{"field":"v","type":"quantitative","scale":{"type":"log","domain":[300,5000],"nice":false},"axis":{"orient":"right","offset":-10,"tickSize":10,"values":[400,500,600,700,800,900,1000,2000,3000,4000],"labels":false,"title":null}}}},
    {"transform":[{"filter":"datum.k=='Gauss'"}],"mark":{"type":"line","color":"#cd1a20","strokeWidth":8},"encoding":{"x":{"field":"r","type":"quantitative","scale":{"domain":[-0.05,0.55],"nice":false,"zero":false},"axis":{"orient":"top","offset":-12,"tickSize":12,"tickCount":6,"labels":false,"title":null}},"y":{"field":"v","type":"quantitative","scale":{"type":"log","domain":[300,5000],"nice":false},"axis":null}}},
    {"transform":[{"filter":"datum.k=='PSF'"}],"mark":{"type":"line","color":"#35a153","strokeWidth":8},"encoding":{"x":{"field":"r","type":"quantitative","scale":{"domain":[-0.05,0.55],"nice":false,"zero":false},"axis":{"orient":"top","offset":-6,"tickSize":6,"tickCount":60,"labels":false,"title":null}},"y":{"field":"v","type":"quantitative","scale":{"type":"log","domain":[300,5000],"nice":false},"axis":null}}},
    {"transform":[{"filter":"datum.k=='beta'"}],"mark":{"type":"line","color":"#2b7cc2","strokeWidth":8},"encoding":{"x":{"field":"r","type":"quantitative","scale":{"domain":[-0.05,0.55],"nice":false,"zero":false},"axis":null},"y":{"field":"v","type":"quantitative","scale":{"type":"log","domain":[300,5000],"nice":false},"axis":null}}},
    {"transform":[{"filter":"datum.k=='beta'"}],"mark":{"type":"line","color":"#6b52a8","strokeWidth":4.5},"encoding":{"x":{"field":"r","type":"quantitative","scale":{"domain":[-0.05,0.55],"nice":false,"zero":false},"axis":null},"y":{"field":"v","type":"quantitative","scale":{"type":"log","domain":[300,5000],"nice":false},"axis":null}}},
    {"transform":[{"filter":"datum.k=='lab'"}],"mark":{"type":"text","font":"Lato","fontWeight":"bold","fontSize":46,"align":"center","baseline":"middle"},"encoding":{"x":{"field":"r","type":"quantitative","scale":{"domain":[-0.05,0.55],"nice":false,"zero":false},"axis":null},"y":{"field":"v","type":"quantitative","scale":{"type":"log","domain":[300,5000],"nice":false},"axis":null},"text":{"field":"t"},"color":{"field":"c","type":"nominal","scale":{"domain":["SP","SB","SG","EP","EB","EG"],"range":["#00693c","#400a8c","#670010","#35a153","#6b52a8","#cd1a20"]},"legend":null}}},
    {"transform":[{"filter":"datum.k=='title'"}],"mark":{"type":"text","font":"Liberation Serif","fontSize":46,"align":"right","baseline":"middle","color":"black"},"encoding":{"x":{"field":"r","type":"quantitative","scale":{"domain":[-0.05,0.55],"nice":false,"zero":false},"axis":null},"y":{"field":"v","type":"quantitative","scale":{"type":"log","domain":[300,5000],"nice":false},"axis":null},"text":{"field":"t"}}}
   ],
   "resolve":{"axis":{"x":"independent","y":"independent"}}}
]}
]
}
